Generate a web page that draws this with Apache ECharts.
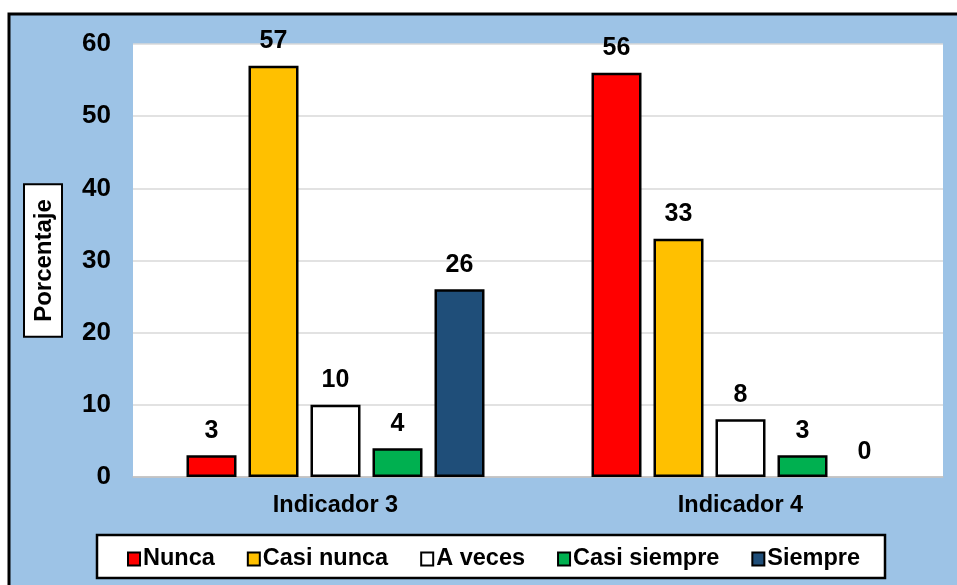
<!DOCTYPE html>
<html>
<head>
<meta charset="utf-8">
<script src="https://cdn.jsdelivr.net/npm/echarts@6/dist/echarts.min.js"></script>
<style>
  html, body { margin: 0; padding: 0; background: #fff; }
  #main { width: 957px; height: 585px; }
</style>
</head>
<body>
<div id="main"></div>
<script>
// datos
var categorias = ['Indicador 3', 'Indicador 4'];
var nunca = [3, 56];
var casiNunca = [57, 33];
var aVeces = [10, 8];
var casiSiempre = [4, 3];
var siempre = [26, 0];

var nombres = ['Nunca', 'Casi nunca', 'A veces', 'Casi siempre', 'Siempre'];
var colores = ['#FF0000', '#FFC000', '#FFFFFF', '#00B050', '#1F4E79'];
var valores = [nunca, casiNunca, aVeces, casiSiempre, siempre];

var fuente = 'Arial, "Liberation Sans", sans-serif';

var series = [];
for (var i = 0; i < nombres.length; i++) {
    var datos = valores[i].map(function (v) {
        // barra en cero: sin borde, solo la etiqueta
        return v === 0 ? { value: v, itemStyle: { borderWidth: 0 } } : v;
    });
    series.push({
        name: nombres[i],
        type: 'bar',
        data: datos,
        barWidth: 50,
        barGap: '24%',
        itemStyle: {
            color: colores[i],
            borderColor: '#000',
            borderWidth: 2.5
        },
        label: {
            show: true,
            position: 'top',
            distance: 12,
            color: '#000',
            fontWeight: 'bold',
            fontSize: 25,
            fontFamily: fuente
        }
    });
}

var myChart = echarts.init(document.getElementById('main'));
var option = {
    backgroundColor: '#fff',
    animation: false,
    graphic: [
        {
            type: 'rect',
            z: -10,
            shape: { x: 9, y: 14, width: 980, height: 620 },
            style: { fill: '#9DC3E6', stroke: '#000', lineWidth: 3 }
        },
        {
            type: 'rect',
            z: -5,
            shape: { x: 97, y: 535, width: 788, height: 43 },
            style: { fill: '#fff', stroke: '#000', lineWidth: 2.5 }
        }
    ],
    grid: {
        left: 133,
        right: 14,
        top: 44,
        bottom: 108,
        show: true,
        backgroundColor: '#fff',
        borderWidth: 0
    },
    legend: {
        data: nombres,
        left: 122,
        top: 542,
        itemWidth: 12,
        itemHeight: 13,
        itemGap: 32,
        icon: 'rect',
        itemStyle: { borderWidth: 2 },
        textStyle: {
            color: '#000',
            fontWeight: 'bold',
            fontSize: 23.5,
            fontFamily: fuente,
            padding: [0, 0, 0, -2]
        }
    },
    xAxis: {
        type: 'category',
        data: categorias,
        axisTick: { show: false },
        axisLine: { lineStyle: { color: '#bfbfbf', width: 1.5 } },
        axisLabel: {
            color: '#000',
            fontWeight: 'bold',
            fontSize: 23.5,
            fontFamily: fuente,
            margin: 17
        }
    },
    yAxis: {
        type: 'value',
        min: 0,
        max: 60,
        interval: 10,
        name: 'Porcentaje',
        nameLocation: 'middle',
        nameGap: 72,
        nameRotate: 90,
        nameTextStyle: {
            color: '#000',
            fontWeight: 'bold',
            fontSize: 24,
            fontFamily: fuente,
            backgroundColor: '#fff',
            borderColor: '#000',
            borderWidth: 2,
            padding: [7, 14, 5, 14]
        },
        axisLine: { show: false },
        axisTick: { show: false },
        splitLine: { lineStyle: { color: '#d9d9d9', width: 1.5 } },
        axisLabel: {
            color: '#000',
            fontWeight: 'bold',
            fontSize: 26,
            fontFamily: fuente,
            margin: 22
        }
    },
    series: series
};
myChart.setOption(option);
</script>
</body>
</html>
